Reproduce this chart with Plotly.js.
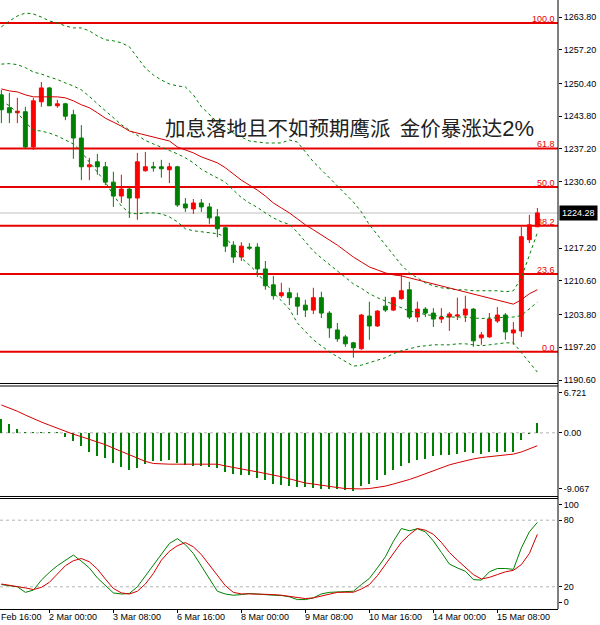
<!DOCTYPE html>
<html><head><meta charset="utf-8">
<script src="https://cdn.plot.ly/plotly-3.0.1.min.js"></script>
<style>html,body{margin:0;padding:0;background:#fff}#chart{width:600px;height:625px}</style>
</head><body><div id="chart"></div>
<script>
// ---- price data (H4 bars, gold) ----
const opens = [1248.1,1245.5,1244.5,1244.7,1237.6,1246.7,1249.5,1245.9,1246.3,1244.1,
1239.4,1233.6,1234.6,1233.6,1230.5,1227.7,1229.1,1227.3,1232.8,1233.6,
1233.6,1233.0,1233.6,1226.1,1225.1,1226.3,1225.5,1223.5,1221.3,1217.8,
1215.4,1217.4,1217.4,1213.0,1209.8,1207.6,1208.2,1207.2,1205.7,1204.7,
1207.2,1204.1,1200.7,1199.3,1198.1,1196.9,1203.5,1201.5,1205.5,1204.7,
1207.0,1208.8,1203.3,1204.9,1204.1,1202.9,1203.3,1203.5,1203.7,1204.9,
1199.1,1199.3,1202.5,1203.7,1200.1,1200.5,1218.9,1221.5];
const highs = [1249.1,1248.5,1247.5,1245.7,1247.5,1250.7,1249.7,1247.1,1246.5,1245.1,
1242.0,1235.4,1236.2,1234.6,1232.6,1232.0,1229.3,1236.4,1236.6,1234.6,
1235.0,1234.4,1233.8,1227.3,1227.1,1227.1,1226.3,1225.1,1221.5,1218.6,
1218.4,1218.2,1218.2,1214.6,1211.6,1210.2,1209.2,1208.2,1206.8,1209.2,
1208.4,1204.5,1202.1,1199.7,1198.3,1203.9,1206.4,1204.7,1207.4,1207.4,
1212.0,1210.4,1206.4,1205.3,1205.1,1205.1,1204.3,1207.2,1207.6,1205.1,
1200.3,1204.1,1205.3,1204.1,1202.3,1221.5,1223.9,1225.3];
const lows = [1242.4,1242.4,1242.4,1237.4,1237.0,1245.7,1245.9,1245.5,1243.0,1235.2,
1230.9,1230.9,1232.0,1229.9,1225.5,1226.3,1223.3,1222.9,1232.6,1232.6,
1231.4,1230.3,1225.5,1224.5,1224.1,1224.5,1222.1,1219.4,1216.4,1214.2,
1214.6,1216.8,1211.4,1208.8,1206.8,1207.2,1205.7,1203.7,1203.3,1203.9,
1203.1,1199.1,1198.3,1197.3,1195.1,1196.7,1198.7,1201.3,1204.3,1204.5,
1206.8,1202.9,1202.3,1203.3,1201.3,1202.1,1200.5,1202.7,1202.3,1197.3,
1197.7,1199.1,1202.1,1198.7,1197.7,1199.3,1218.2,1221.5];
const closes = [1245.1,1244.5,1244.8,1237.6,1246.9,1249.5,1245.9,1246.3,1243.8,1239.4,
1233.6,1234.0,1233.6,1230.5,1227.7,1229.1,1227.3,1234.6,1233.6,1233.4,
1233.2,1233.6,1225.9,1225.3,1226.3,1225.5,1223.3,1221.1,1217.6,1215.4,
1217.6,1217.2,1213.0,1209.6,1207.6,1208.2,1207.2,1205.5,1204.7,1207.2,
1204.1,1201.1,1198.9,1197.9,1197.1,1203.7,1201.5,1204.5,1204.7,1207.2,
1208.6,1203.3,1204.9,1204.1,1202.9,1203.3,1203.9,1203.7,1204.9,1198.5,
1199.7,1202.9,1203.7,1200.3,1200.7,1219.5,1221.9,1224.3];

// ---- moving average (red) and Bollinger bands (dashed green) ----
const maRed = [1249.3,1248.9,1248.7,1248.1,1247.7,1247.7,1247.7,1247.7,1247.5,1246.9,
1246.1,1245.5,1244.5,1243.4,1242.6,1241.8,1240.8,1240.4,1240.0,1239.6,
1239.2,1238.8,1237.6,1237.0,1236.4,1235.6,1235.0,1234.4,1233.4,1232.2,
1230.9,1229.9,1228.9,1227.7,1226.3,1225.3,1224.3,1223.1,1221.9,1220.9,
1219.9,1218.9,1217.8,1216.6,1215.4,1214.4,1213.4,1212.8,1212.2,1211.8,
1211.6,1211.2,1210.8,1210.4,1210.0,1209.6,1209.2,1208.8,1208.4,1208.0,
1207.6,1207.2,1206.8,1206.4,1205.9,1206.8,1208.0,1208.8];
const bbUpper = [1261.8,1263.0,1264.0,1264.6,1264.4,1263.8,1263.0,1262.6,1262.0,1261.6,
1261.6,1261.0,1260.0,1259.2,1259.0,1258.6,1257.8,1255.7,1253.5,1252.1,
1251.1,1250.3,1249.9,1249.7,1248.1,1245.7,1244.1,1242.6,1241.6,1240.4,
1239.6,1238.8,1238.6,1238.4,1238.4,1238.4,1239.0,1238.6,1236.6,1234.6,
1233.0,1231.4,1229.9,1228.3,1226.5,1224.5,1221.9,1219.9,1217.8,1215.8,
1213.8,1212.2,1211.2,1210.2,1209.6,1209.2,1209.0,1208.8,1208.8,1208.6,
1208.6,1208.6,1208.6,1208.4,1208.6,1211.2,1215.8,1220.3];
const bbMiddle = [1254.3,1254.4,1254.2,1253.6,1252.7,1252.3,1251.7,1251.2,1250.5,1249.9,
1249.1,1247.8,1246.3,1244.9,1243.4,1242.1,1241.0,1239.9,1238.9,1238.2,
1237.6,1236.9,1236.2,1235.4,1234.4,1233.1,1232.2,1231.4,1230.5,1228.9,
1227.4,1226.3,1225.4,1224.3,1223.3,1222.5,1222.0,1220.4,1218.5,1216.6,
1215.2,1213.8,1212.6,1211.3,1210.0,1209.1,1208.0,1207.2,1206.5,1205.8,
1205.1,1204.5,1204.2,1203.8,1203.6,1203.4,1203.3,1203.3,1203.3,1203.1,
1203.0,1203.1,1203.2,1203.2,1203.3,1203.6,1205.0,1206.3];
const bbLower = [1246.9,1245.9,1244.5,1242.6,1241.0,1240.8,1240.4,1239.8,1239.0,1238.2,
1236.6,1234.6,1232.6,1230.5,1227.9,1225.7,1224.3,1224.1,1224.3,1224.3,
1224.1,1223.5,1222.5,1221.1,1220.7,1220.5,1220.3,1220.1,1219.5,1217.4,
1215.2,1213.8,1212.2,1210.2,1208.2,1206.6,1204.9,1202.1,1200.5,1198.7,
1197.5,1196.3,1195.3,1194.3,1193.4,1193.6,1194.1,1194.5,1195.1,1195.9,
1196.5,1196.9,1197.3,1197.5,1197.7,1197.7,1197.7,1197.9,1197.9,1197.7,
1197.5,1197.7,1197.9,1198.1,1198.1,1196.1,1194.3,1192.2];

// ---- Fibonacci retracement ----
const fibLevels = [0.0, 23.6, 38.2, 50.0, 61.8, 100.0];
const fibPrices = [1196.3, 1212.0, 1221.7, 1229.5, 1237.3, 1262.6];
const lastPrice = 1224.28;

// ---- MACD ----
const macdHist = [1.95,1.2,0.6,0.15,0.15,0.15,0.15,0.15,-0.6,-1.2,
-1.95,-2.7,-3.3,-3.65,-4.4,-4.9,-5.3,-5.1,-4.5,-4.1,
-4.1,-3.9,-4.3,-4.6,-4.8,-4.8,-4.9,-5.1,-5.6,-5.9,
-6.0,-6.0,-6.5,-6.8,-7.3,-7.5,-7.6,-7.8,-7.8,-7.9,
-8.05,-8.05,-8.05,-8.2,-8.3,-7.7,-7.3,-6.7,-6.1,-5.4,
-4.8,-4.4,-3.9,-3.7,-3.3,-3.2,-3.2,-3.0,-2.8,-2.9,
-3.0,-2.8,-2.7,-2.7,-2.7,-1.1,-0.15,1.45];
const macdSignal = [4.0,3.6,3.1,2.55,2.0,1.55,1.1,0.65,0.2,-0.2,
-0.55,-0.9,-1.35,-1.7,-2.2,-2.7,-3.2,-3.7,-4.1,-4.4,
-4.5,-4.5,-4.5,-4.5,-4.5,-4.5,-4.5,-4.5,-4.75,-5.0,
-5.2,-5.4,-5.6,-5.8,-6.05,-6.3,-6.6,-6.9,-7.2,-7.35,
-7.55,-7.7,-7.85,-8.0,-8.05,-8.05,-8.0,-7.85,-7.65,-7.35,
-7.05,-6.7,-6.3,-5.85,-5.4,-5.0,-4.6,-4.3,-4.0,-3.75,
-3.55,-3.45,-3.35,-3.25,-3.05,-2.75,-2.3,-1.85];

// ---- Stochastic ----
const stochK = [22,21,20,15,17,26,33,39,44,48.6,
43,37,28,21,14.5,13.5,14,20,30,40,
50,59,63.4,58,50,39,27,16,13.5,12.4,
13,14,13.5,12.8,12.4,12.2,11,8.5,8.5,10,
13.6,15,15.5,15.8,16,22,27.5,37,47,61,
72.5,70.5,72.3,69.5,61.3,51,40.5,37,34,26.5,
26,33.5,36.5,36.5,35.7,55,69.5,78];
const stochD = [22.5,21.5,20.5,19,17.5,19.5,24,32,39,43.5,
45.5,42.5,36,27,18.5,14.5,13.5,16,22.5,32,
44,52,57,59.8,56,49,40,31,21,15,
13.6,13.6,13.6,13.6,13,12.4,11.5,10,9.4,10,
11.5,13.5,15,15.1,15.1,18,22,30,40,51,
60,67,72.5,71,67.3,60,51,44,37.5,31,
27,28.5,31,33.5,34.8,40,50,67.3];
const stochLevels = [80, 20];

// ---- axis labels ----
const timeLabelBars = [-2, 6, 14, 22, 30, 38, 46, 54, 62];
const timeLabels = ['Feb 16:00','2 Mar 00:00','3 Mar 08:00','6 Mar 16:00','8 Mar 00:00','9 Mar 08:00','10 Mar 16:00','14 Mar 00:00','15 Mar 08:00'];
const priceTicks = [1263.80,1257.20,1250.40,1243.80,1237.20,1230.60,1217.20,1210.60,1203.80,1197.20,1190.60];
const macdTickVals = [5.72, 0, -8.06];
const macdTickText = ['6.721','0.00','-9.067'];
const stochTickVals = [93.7, 80, 20, 6.3];
const stochTickText = ['100','80','20','0'];
const headline = '加息落地且不如预期鹰派&nbsp; 金价暴涨达<span style="font-family:Liberation Sans;font-size:22px">2%</span>';

const barIndex = opens.map((_, i) => i);
const X_RANGE = [-0.17, 69.58];
const GREEN = '#008000', RED = '#ff0000', LINE_RED = '#d40000';
const dashGreen = {color: GREEN, width: 1, dash: '3px,3px'};

const traces = [
  {type:'scatter', mode:'lines', x:barIndex, y:bbUpper, line:dashGreen, xaxis:'x', yaxis:'y', hoverinfo:'skip'},
  {type:'scatter', mode:'lines', x:barIndex, y:bbMiddle, line:dashGreen, xaxis:'x', yaxis:'y', hoverinfo:'skip'},
  {type:'scatter', mode:'lines', x:barIndex, y:bbLower, line:dashGreen, xaxis:'x', yaxis:'y', hoverinfo:'skip'},
  {type:'scatter', mode:'lines', x:barIndex, y:maRed, line:{color:LINE_RED, width:1}, xaxis:'x', yaxis:'y', hoverinfo:'skip'},
  {type:'candlestick', x:barIndex, open:opens, high:highs, low:lows, close:closes,
   increasing:{line:{color:RED, width:1}, fillcolor:RED},
   decreasing:{line:{color:GREEN, width:1}, fillcolor:GREEN},
   whiskerwidth:0, xaxis:'x', yaxis:'y', hoverinfo:'skip'},
  {type:'bar', x:barIndex, y:macdHist, width:0.25, marker:{color:GREEN, line:{width:0}}, xaxis:'x', yaxis:'y2', hoverinfo:'skip'},
  {type:'scatter', mode:'lines', x:barIndex, y:macdSignal, line:{color:LINE_RED, width:1}, xaxis:'x', yaxis:'y2', hoverinfo:'skip'},
  {type:'scatter', mode:'lines', x:barIndex, y:stochK, line:{color:GREEN, width:1}, xaxis:'x', yaxis:'y3', hoverinfo:'skip'},
  {type:'scatter', mode:'lines', x:barIndex, y:stochD, line:{color:LINE_RED, width:1}, xaxis:'x', yaxis:'y3', hoverinfo:'skip'}
];

const shapes = [];
fibPrices.forEach(p => shapes.push({type:'line', xref:'paper', x0:0, x1:1, yref:'y', y0:p, y1:p,
  line:{color:'#e60000', width:2}, layer:'below'}));
shapes.push({type:'line', xref:'paper', x0:0, x1:1, yref:'y', y0:lastPrice, y1:lastPrice,
  line:{color:'#c0c0c0', width:1}, layer:'below'});
shapes.push({type:'line', xref:'paper', x0:0, x1:1, yref:'y2', y0:0, y1:0,
  line:{color:'#b4b4b4', width:1, dash:'3px,3px'}, layer:'below'});
stochLevels.forEach(v => shapes.push({type:'line', xref:'paper', x0:0, x1:1, yref:'y3', y0:v, y1:v,
  line:{color:'#b4b4b4', width:1, dash:'3px,3px'}, layer:'below'}));
// panel frames
[0.37028, 0.36617, 0.18473, 0.18144].forEach(py => shapes.push({type:'line', xref:'paper', yref:'paper',
  x0:0, x1:1, y0:py, y1:py, line:{color:'#000', width:1}}));
shapes.push({type:'line', xref:'paper', yref:'paper', x0:1, x1:1, y0:0, y1:1, line:{color:'#000', width:1}});

const annotations = [];
const toPaperX = k => Math.max(0, (k - X_RANGE[0]) / (X_RANGE[1] - X_RANGE[0]));
timeLabelBars.forEach((k, i) => annotations.push({xref:'paper', yref:'paper', x:toPaperX(k), y:0,
  xanchor:'left', yanchor:'top', xshift:(k < X_RANGE[0] ? -1 : -2), yshift:-1, showarrow:false, text:timeLabels[i],
  font:{size:9, color:'#000', family:'Liberation Sans, Arial, sans-serif'}}));
fibLevels.forEach((lv, i) => annotations.push({xref:'paper', yref:'y', x:1, y:fibPrices[i],
  xanchor:'right', yanchor:'bottom', xshift:-1, yshift:-3, showarrow:false, text:lv.toFixed(1),
  font:{size:9, color:'#e60000', family:'Liberation Sans, Arial, sans-serif'}}));
annotations.push({xref:'paper', yref:'y', x:1, y:lastPrice, xanchor:'left', yanchor:'middle', xshift:1,
  showarrow:false, text:lastPrice.toFixed(2), bgcolor:'#000', borderpad:2,
  font:{size:9, color:'#fff', family:'Liberation Sans, Arial, sans-serif'}});
annotations.push({xref:'paper', yref:'paper', x:0.2921, y:0.7915, xanchor:'left', yanchor:'middle',
  showarrow:false, text:headline, font:{size:20.5, color:'#222', family:'Noto Sans CJK SC, sans-serif'}});

const yCommon = {side:'right', showgrid:false, zeroline:false, showline:false, ticks:'outside', ticklen:3,
  tickcolor:'#000', tickfont:{size:9, color:'#000', family:'Liberation Sans, Arial, sans-serif'},
  anchor:'x', fixedrange:true};

const layout = {
  width:600, height:625,
  margin:{l:0, r:42, t:0, b:16, pad:0},
  paper_bgcolor:'#fff', plot_bgcolor:'#fff',
  showlegend:false, bargap:0,
  font:{family:'Liberation Sans, Arial, sans-serif', size:9, color:'#000'},
  xaxis:{range:X_RANGE, anchor:'y3', showgrid:false, zeroline:false, showline:true, linecolor:'#000', linewidth:1,
    tickvals:timeLabelBars, showticklabels:false, ticks:'outside', ticklen:3, tickcolor:'#000',
    rangeslider:{visible:false}, fixedrange:true},
  yaxis:Object.assign({}, yCommon, {domain:[0.3711, 1], range:[1190.0, 1267.23],
    tickvals:priceTicks, ticktext:priceTicks.map(v => v.toFixed(2))}),
  yaxis2:Object.assign({}, yCommon, {domain:[0.18555, 0.36617], range:[-9.067, 6.721],
    tickvals:macdTickVals, ticktext:macdTickText}),
  yaxis3:Object.assign({}, yCommon, {domain:[0, 0.18227], range:[0, 100],
    tickvals:stochTickVals, ticktext:stochTickText}),
  shapes:shapes, annotations:annotations
};

Plotly.newPlot('chart', traces, layout, {staticPlot:true, displayModeBar:false});
</script></body></html>
